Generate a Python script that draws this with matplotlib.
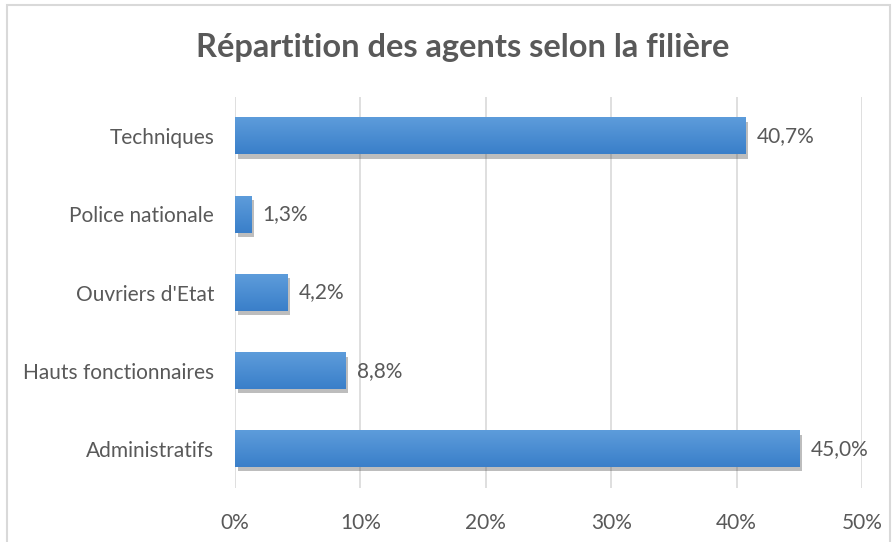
import matplotlib.pyplot as plt
import matplotlib.patheffects as pe
import numpy as np
from matplotlib.patches import Rectangle
from matplotlib.colors import LinearSegmentedColormap

categories = ['Administratifs', 'Hauts fonctionnaires', "Ouvriers d'Etat", 'Police nationale', 'Techniques']
values = [45.0, 8.8, 4.2, 1.3, 40.7]
ticks = [0, 10, 20, 30, 40, 50]

grey = '#595959'
plt.rcParams['font.family'] = ['Lato', 'DejaVu Sans']

fig = plt.figure(figsize=(8.96, 5.42), dpi=100)
fig.patches.append(Rectangle((0.008, -0.01), 0.985, 1.0, transform=fig.transFigure,
                             fill=False, edgecolor='#d9d9d9', linewidth=1.5))
ax = fig.add_axes([0.2623, 0.0996, 0.6998, 0.7214])

bar_h = 0.47
bars = ax.barh(range(len(categories)), values, height=bar_h, color='#4a8fd6',
               edgecolor='none', zorder=3)
for b in bars:
    b.set_path_effects([pe.SimplePatchShadow(offset=(2, -3), shadow_rgbFace='#444444', alpha=0.35),
                        pe.Normal()])

# gradient fill on top of each bar (lighter on top, darker below)
cmap = LinearSegmentedColormap.from_list('g', ['#3a7fc9', '#5d9cdb'])
grad = np.linspace(0, 1, 64).reshape(-1, 1)
for i, v in enumerate(values):
    ax.imshow(grad, cmap=cmap, aspect='auto', origin='lower', zorder=4,
              extent=(0, v, i - bar_h / 2, i + bar_h / 2))

for i, v in enumerate(values):
    ax.text(v + 0.9, i, f'{v:.1f}%'.replace('.', ','), va='center', ha='left',
            fontsize=15, color=grey)

ax.set_xlim(0, 50)
ax.set_ylim(-0.5, 4.5)
ax.set_xticks(ticks)
ax.set_xticklabels([f'{t}%' for t in ticks], fontsize=15, color=grey)
ax.set_yticks(range(len(categories)))
ax.set_yticklabels(categories, fontsize=15, color=grey)
ax.tick_params(length=0, pad=18, axis='x')
ax.tick_params(length=0, pad=15, axis='y')
ax.grid(axis='x', color='#d9d9d9', linewidth=1.2, zorder=0)
for s in ax.spines.values():
    s.set_visible(False)

fig.text(0.516, 0.912, 'Répartition des agents selon la filière', ha='center', va='center',
         fontsize=23.5, fontweight='bold', color=grey)

fig.savefig('out.png', dpi=100)
